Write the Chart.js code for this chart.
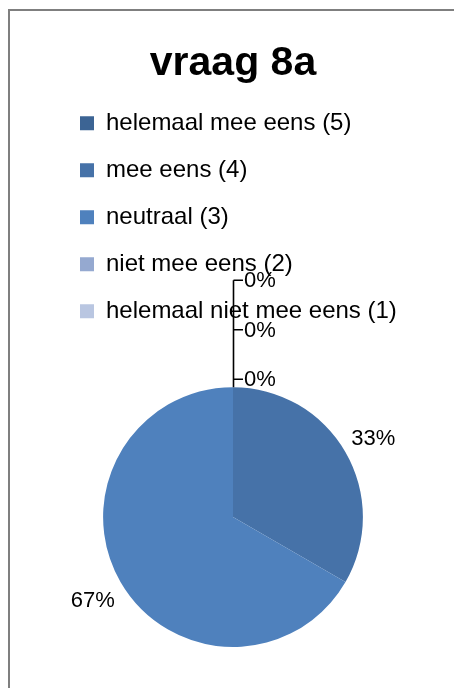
<!DOCTYPE html>
<html>
<head>
<meta charset="utf-8">
<style>
  html, body { margin: 0; padding: 0; background: #ffffff; }
  #wrap { width: 454px; height: 688px; position: relative; }
</style>
<script src="https://cdn.jsdelivr.net/npm/chart.js@4.4.1/dist/chart.umd.min.js"></script>
</head>
<body>
<div id="wrap"><canvas id="chart" width="454" height="688"></canvas></div>
<script>
// Survey answers for question 8a
const chartTitle = 'vraag 8a';
const categories = [
  'helemaal mee eens (5)',
  'mee eens (4)',
  'neutraal (3)',
  'niet mee eens (2)',
  'helemaal niet mee eens (1)'
];
const counts = [0, 1, 2, 0, 0];
const sliceColors = ['#3c6494', '#4672a8', '#4f81bd', '#95a9d0', '#b9c6e1'];

const FONT = '"Liberation Sans", Arial, sans-serif';

// Thin grey frame along the left and top edges
const framePlugin = {
  id: 'frame',
  beforeDraw(chart) {
    const ctx = chart.ctx;
    ctx.save();
    ctx.strokeStyle = '#7f7f7f';
    ctx.lineWidth = 2;
    ctx.beginPath();
    ctx.moveTo(9, chart.height);
    ctx.lineTo(9, 10);
    ctx.lineTo(chart.width, 10);
    ctx.stroke();
    ctx.restore();
  }
};

// Percentage labels outside each slice; empty slices get stacked labels with a leader line
const sliceLabels = {
  id: 'sliceLabels',
  afterDatasetsDraw(chart) {
    const ctx = chart.ctx;
    const meta = chart.getDatasetMeta(0);
    const data = chart.data.datasets[0].data;
    const total = data.reduce((a, b) => a + b, 0);
    ctx.save();
    ctx.font = '22px ' + FONT;
    ctx.fillStyle = '#000000';
    ctx.textBaseline = 'middle';
    const empty = [];
    meta.data.forEach((arc, i) => {
      const v = data[i];
      const text = Math.round(v / total * 100) + '%';
      const p = arc.getProps(['x', 'y', 'startAngle', 'endAngle', 'outerRadius'], true);
      if (v === 0) {
        empty.push({ text, p });
        return;
      }
      const mid = (p.startAngle + p.endAngle) / 2;
      const d = p.outerRadius + 32;
      ctx.textAlign = 'center';
      ctx.fillText(text, p.x + Math.cos(mid) * d, p.y + Math.sin(mid) * d + 3);
    });
    if (empty.length) {
      const p = empty[0].p;
      const ax = p.x + p.outerRadius * Math.cos(p.startAngle);
      const ay = p.y + p.outerRadius * Math.sin(p.startAngle);
      const step = 49.5;
      const ys = empty.map((_, k) => ay - 8 - k * step);
      ctx.strokeStyle = '#000000';
      ctx.lineWidth = 1.6;
      ctx.beginPath();
      ctx.moveTo(ax + 0.5, ay);
      ctx.lineTo(ax + 0.5, ys[ys.length - 1]);
      ys.forEach(y => {
        ctx.moveTo(ax + 0.5, y);
        ctx.lineTo(ax + 10, y);
      });
      ctx.stroke();
      ctx.textAlign = 'left';
      empty.forEach((e, k) => ctx.fillText(e.text, ax + 11, ys[k] + 1));
    }
    ctx.restore();
  }
};

new Chart(document.getElementById('chart'), {
  type: 'pie',
  data: {
    labels: categories,
    datasets: [{
      data: counts,
      backgroundColor: sliceColors,
      borderWidth: 0
    }]
  },
  options: {
    responsive: false,
    animation: false,
    devicePixelRatio: 1,
    layout: { padding: { left: 57, right: 45, top: 0, bottom: 41 } },
    plugins: {
      title: {
        display: true,
        text: chartTitle,
        color: '#000000',
        font: { family: FONT, size: 41, weight: 'bold' },
        padding: { top: 39, bottom: 0 }
      },
      subtitle: {
        display: true,
        text: '',
        position: 'top',
        weight: 500,
        font: { size: 10 },
        padding: { top: 0, bottom: 42 }
      },
      legend: {
        position: 'top',
        align: 'start',
        labels: {
          color: '#000000',
          font: { family: FONT, size: 24 },
          boxWidth: 14,
          boxHeight: 14,
          padding: 23
        }
      },
      tooltip: { enabled: false }
    }
  },
  plugins: [framePlugin, sliceLabels]
});
</script>
</body>
</html>
